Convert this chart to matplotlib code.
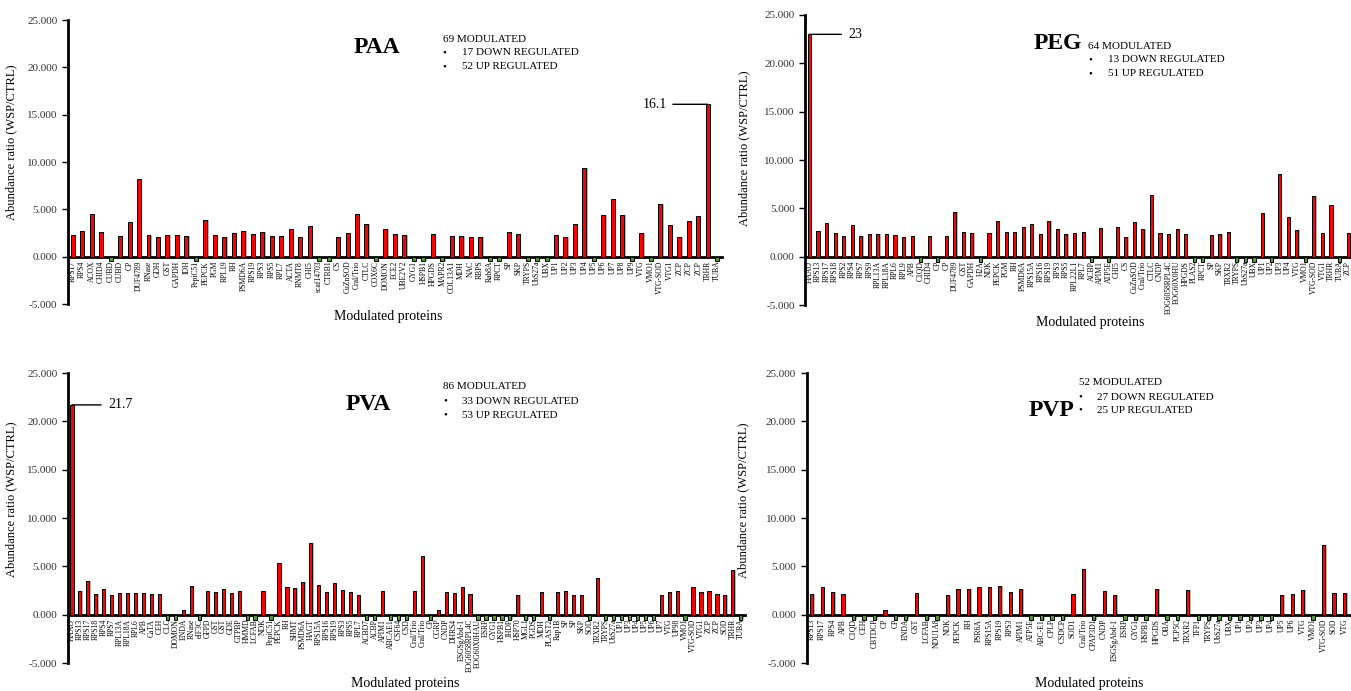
import matplotlib.pyplot as plt
import numpy as np
from matplotlib.ticker import FormatStrFormatter

plt.rcParams['font.family'] = ['Liberation Serif', 'DejaVu Serif']

# ---- data (down regulated proteins drawn as small negative markers) ----
paa_labels = ['RPS17', 'RPS4', 'ACOX', 'CHID4', 'CUBD', 'CUBD', 'CP', 'DUF4789', 'RNase', 'GDH',
              'GST', 'GAPDH', 'IDH', 'PepiC51', 'PEPCK', 'PGM', 'RPL19', 'RH', 'PSMD6A', 'RPS19',
              'RPS3', 'RPS5', 'RPL7', 'ACTA', 'RNMT8', 'CHI5', 'scaf14703', 'CTRB1', 'CS', 'CuZnSOD',
              'Cral/Trio', 'CTLC', 'COX6C', 'DOMON', 'ECE2', 'UBE2V2', 'GYG1', 'HSPB1', 'HPGDS', 'MAPR2',
              'COL13A1', 'MDH', 'NAC', 'RBPS', 'Rab8A', 'RPCT', 'SP', 'SKP', 'TRYPS', 'UbS27a',
              'UBX', 'UP1', 'UP2', 'UP3', 'UP4', 'UP5', 'UP6', 'UP7', 'UP8', 'UP9',
              'VTG', 'VMO1', 'VTG-SOD', 'VTG1', 'ZCP', 'ZCP', 'ZCP', 'TRHR', 'TUBA']
paa_values = [2.25, 2.68, 4.5, 2.57, -0.5, 2.15, 3.66, 8.24, 2.25, 2.08,
              2.29, 2.25, 2.18, -0.5, 3.87, 2.29, 2.08, 2.46, 2.7, 2.43,
              2.57, 2.22, 2.15, 2.89, 2.04, 3.2, -0.5, -0.5, 2.08, 2.46,
              4.47, 3.42, -0.5, 2.89, 2.39, 2.25, -0.5, -0.5, 2.43, -0.5,
              2.18, 2.18, 2.04, 2.08, -0.5, -0.5, 2.6, 2.4, -0.5, -0.5,
              -0.5, 2.3, 2.1, 3.45, 9.4, -0.5, 4.4, 6.06, 4.4, -0.5,
              2.5, -0.5, 5.6, 3.35, 2.04, 3.8, 4.3, 16.1, -0.5]

peg_labels = ['HAAO', 'RPS13', 'RPS17', 'RPS18', 'RPS2', 'RPS4', 'RPS7', 'RPS9', 'RPL13A', 'RPL18A',
              'RPL6', 'RPL9', 'APB', 'C1QD', 'CHID4', 'CP', 'CP', 'DUF4789', 'GST', 'GAPDH',
              'H2A', 'NDK', 'PEPCK', 'PGM', 'RH', 'PSMD6A', 'RPS15A', 'RPS16', 'RPS19', 'RPS3',
              'RPS5', 'RPL22L1', 'RPL7', 'ACBP', 'APIM1', 'ATP5E', 'CHI5', 'CS', 'CuZnSOD', 'Cral/Trio',
              'CTLC', 'CNDP', 'EOG6058RPL4C', 'EOG60X0HU', 'HPGDS', 'PLAS2', 'RPCT', 'SP', 'SKP', 'TRXR2',
              'TRYPS', 'UbS27a', 'UBX', 'UP1', 'UP2', 'UP3', 'UP4', 'VTG', 'VMO1', 'VTG-SOD',
              'VTG1', 'TRHR', 'TUBA', 'ZCP']
peg_values = [23.0, 2.7, 3.5, 2.5, 2.1, 3.3, 2.1, 2.3, 2.3, 2.3,
              2.2, 2.0, 2.1, -0.5, 2.1, -0.5, 2.1, 4.6, 2.6, 2.5,
              -0.5, 2.4, 3.7, 2.6, 2.6, 3.1, 3.4, 2.3, 3.7, 2.9,
              2.3, 2.4, 2.6, -0.5, 3.0, -0.5, 3.1, 2.0, 3.6, 2.9,
              6.4, 2.4, 2.3, 2.9, 2.3, -0.5, -0.5, 2.2, 2.3, 2.6,
              -0.5, -0.5, -0.5, 4.5, -0.5, 8.6, 4.1, 2.8, -0.5, 6.3,
              2.4, 5.3, -0.5, 2.4]

pva_labels = ['HAAO', 'RPS13', 'RPS17', 'RPS18', 'RPS4', 'RPS7', 'RPL13A', 'RPL18A', 'RPL6', 'APB',
              'CaTA', 'CEH', 'CLC', 'DOMON', 'ENDA', 'RNase', 'eIF3C', 'GFPD', 'GST', 'GST',
              'GDE', 'GTPBP', 'HMMD', 'LCFAB', 'NDK', 'PepiC51', 'PEPCK', 'RH', 'SHMT', 'PSMD6A',
              'HAGT', 'RPS15A', 'RPS16', 'RPS19', 'RPS3', 'RPS5', 'RPL7', 'ACBD7', 'ACBP', 'APIM1',
              'ABCAE1', 'CSF64', 'CSD', 'Cral/Trio', 'Cral/Trio', 'CP', 'CGRP', 'CNDP', 'DHRS4', 'ESGSgAbd-1',
              'EOG6058RPL4C', 'EOG60X0HAU', 'ESRP', 'GYG1', 'HSPB1', 'JHDP', 'HSP70', 'MGL1', 'PGDS', 'MDH',
              'PLAST2', 'Rap1B', 'SP', 'SP', 'SKP', 'SOD', 'TRXR2', 'TRYPS', 'UbS27a', 'UP1',
              'UP3', 'UP4', 'UP5', 'UP6', 'UP7', 'VTG', 'UP98', 'VMO1', 'VTG-SOD', 'VTG1',
              'ZCP', 'ZCP', 'SOD', 'TRHR', 'TUBA']
pva_values = [21.7, 2.5, 3.5, 2.1, 2.7, 2.0, 2.2, 2.2, 2.2, 2.2,
              2.1, 2.1, -0.5, -0.5, 0.5, 3.0, -0.5, 2.4, 2.3, 2.7,
              2.2, 2.4, -0.5, -0.5, 2.4, -0.5, 5.3, 2.9, 2.8, 3.4,
              7.4, 3.1, 2.3, 3.3, 2.6, 2.3, 2.0, -0.5, -0.5, 2.5,
              -0.5, -0.5, -0.5, 2.5, 6.1, -0.5, 0.5, 2.3, 2.2, 2.9,
              2.1, -0.5, -0.5, -0.5, -0.5, -0.5, 2.0, -0.5, -0.5, 2.3,
              -0.5, 2.3, 2.5, 2.0, 2.0, -0.5, 3.8, -0.5, -0.5, -0.5,
              -0.5, -0.5, -0.5, -0.5, 2.0, 2.3, 2.4, -0.5, 2.9, 2.3,
              2.4, 2.1, 2.0, 4.6, -0.5]

pvp_labels = ['RPS13', 'RPS17', 'RPS4', 'APB', 'C1QD', 'CEH', 'CBTDCP', 'CP', 'CP', 'ENDA',
              'GST', 'LCFAB', 'NDU1A8', 'NDK', 'PEPCK', 'RH', 'PSR6A', 'RPS15A', 'RPS19', 'RPS3',
              'APIM1', 'ATP5E', 'ABC-E1', 'CPLP', 'CSDCP', 'SOD1', 'Cral/Trio', 'CPAP3D1', 'CNDP', 'ESGSgAbd-1',
              'ESRP', 'GYG1', 'HSPB1', 'HPGDS', 'OBA', 'PCP5C', 'TRXR2', 'TFP1', 'TRYPS', 'UbS27a',
              'UBX', 'UP1', 'UP2', 'UP3', 'UP4', 'UP5', 'UP6', 'VTG', 'VMO1', 'VTG-SOD',
              'SOD', 'VTG']
pvp_values = [2.1, 2.9, 2.3, 2.1, -0.5, -0.5, -0.5, 0.5, -0.5, -0.5,
              2.2, -0.5, -0.5, 2.0, 2.7, 2.7, 2.9, 2.9, 3.0, 2.3,
              2.7, -0.5, -0.5, -0.5, -0.5, 2.1, 4.7, -0.5, 2.4, 2.0,
              -0.5, -0.5, -0.5, 2.7, -0.5, -0.5, 2.6, -0.5, -0.5, -0.5,
              -0.5, -0.5, -0.5, -0.5, -0.5, 2.0, 2.1, 2.6, -0.5, 7.2,
              2.2, 2.2]

info_paa = ['69 MODULATED', '17 DOWN REGULATED', '52 UP REGULATED']
info_peg = ['64 MODULATED', '13 DOWN REGULATED', '51 UP REGULATED']
info_pva = ['86 MODULATED', '33 DOWN REGULATED', '53 UP REGULATED']
info_pvp = ['52 MODULATED', '27 DOWN REGULATED', '25 UP REGULATED']


def panel(rect, labels, values, title, info, title_pos, info_x, info_y, xlab_pos, ylab_pos, lw=0.4):
    ax = fig.add_axes(rect)
    # spines first: moving the bottom spine resets the tick objects
    for s in ['top', 'right']:
        ax.spines[s].set_visible(False)
    ax.spines['bottom'].set_position(('data', 0))
    ax.spines['bottom'].set_linewidth(2)
    ax.spines['left'].set_linewidth(2)

    x = np.arange(len(values))
    colors = ['#ff0000' if v > 0 else '#4e9a2c' for v in values]
    ax.bar(x + 0.14, values, lw, color='#b5b5b5', zorder=1)
    ax.bar(x, values, lw, color=colors, edgecolor='black', linewidth=0.7, zorder=3)

    ax.set_xlim(-0.5, len(values) - 0.5)
    ax.set_ylim(-5, 25)
    ax.set_yticks(np.arange(-5, 26, 5))
    ax.yaxis.set_major_formatter(FormatStrFormatter('%.3f'))
    ax.set_xticks(x)
    ax.set_xticklabels(labels, rotation=90, fontsize=5.5)
    ax.tick_params(axis='x', length=0, pad=3)
    ax.tick_params(axis='y', labelsize=8, length=4, width=1, labelcolor='#333333')

    ax.set_ylabel('Abundance ratio (WSP/CTRL)', fontsize=9)
    ax.yaxis.set_label_coords(*ylab_pos)
    ax.text(xlab_pos[0], xlab_pos[1], 'Modulated proteins', transform=ax.transAxes,
            ha='center', va='center', fontsize=10)

    ax.text(title_pos[0], title_pos[1], title, transform=ax.transAxes, ha='center', va='center',
            fontsize=17, fontweight='bold')
    ax.text(info_x[0], info_y[0], info[0], transform=ax.transAxes, va='center', fontsize=8)
    for line, yy in zip(info[1:], info_y[1:]):
        ax.text(info_x[0], yy, '\u2022', transform=ax.transAxes, va='center', fontsize=8)
        ax.text(info_x[1], yy, line, transform=ax.transAxes, va='center', fontsize=8)
    return ax


fig = plt.figure(figsize=(13.51, 6.91), dpi=100)

ax1 = panel([0.0503, 0.560, 0.484, 0.411], paa_labels, paa_values, 'PAA', info_paa,
            (0.472, 0.905), (0.573, 0.602), (0.933, 0.884, 0.835), (0.49, -0.045), (-0.078, 0.57), lw=0.42)
i = paa_values.index(max(paa_values))
ax1.annotate('16.1', xy=(i, paa_values[i]), xytext=(-29, 0), textcoords='offset points',
             ha='right', va='center', fontsize=10,
             arrowprops=dict(arrowstyle='-', color='black', lw=1, shrinkA=2, shrinkB=0))

ax2 = panel([0.596, 0.5586, 0.405, 0.4197], peg_labels, peg_values, 'PEG', info_peg,
            (0.4625, 0.9), (0.517, 0.554), (0.893, 0.845, 0.797), (0.52, -0.059), (-0.1, 0.54), lw=0.36)
i = peg_values.index(max(peg_values))
ax2.annotate('23', xy=(i, peg_values[i]), xytext=(28, 0), textcoords='offset points',
             ha='left', va='center', fontsize=10,
             arrowprops=dict(arrowstyle='-', color='black', lw=1, shrinkA=3, shrinkB=0))

ax3 = panel([0.0503, 0.0405, 0.501, 0.4197], pva_labels, pva_values, 'PVA', info_pva,
            (0.443, 0.89), (0.554, 0.582), (0.952, 0.903, 0.855), (0.498, -0.072), (-0.075, 0.566), lw=0.4)
i = pva_values.index(max(pva_values))
ax3.annotate('21.7', xy=(i, pva_values[i]), xytext=(26, 0), textcoords='offset points',
             ha='left', va='center', fontsize=10,
             arrowprops=dict(arrowstyle='-', color='black', lw=1, shrinkA=3, shrinkB=0))

ax4 = panel([0.597, 0.0405, 0.402, 0.4197], pvp_labels, pvp_values, 'PVP', info_pvp,
            (0.451, 0.872), (0.501, 0.534), (0.966, 0.917, 0.872), (0.52, -0.072), (-0.105, 0.56), lw=0.32)

fig.savefig('out.png', dpi=100)
